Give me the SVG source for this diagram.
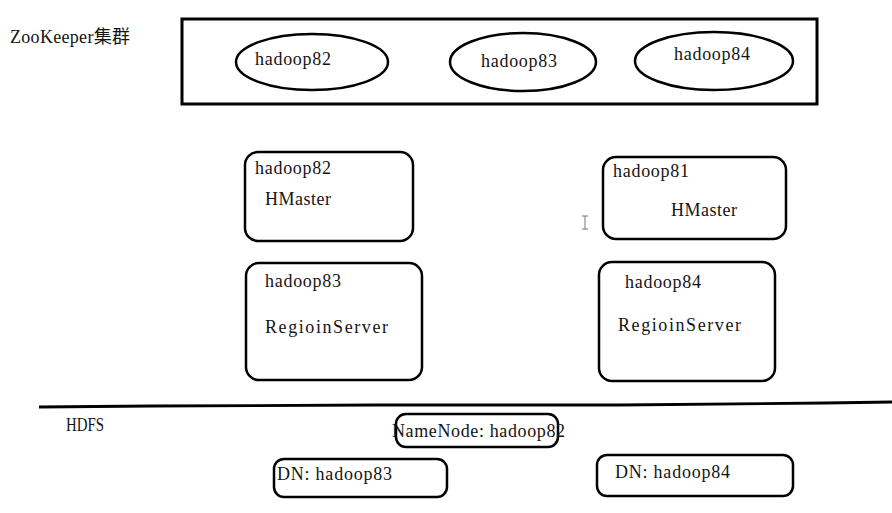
<svg xmlns="http://www.w3.org/2000/svg" width="892" height="513" viewBox="0 0 892 513">
<style>
text { font-family: "Liberation Serif", "Noto Sans CJK SC", serif; font-size: 18px; fill: #141414; }
.sm { font-size: 18px; }
.s { fill: none; stroke: #000; stroke-width: 2.5; }
.t { fill: none; stroke: #000; stroke-width: 3; }
</style>
<rect x="0" y="0" width="892" height="513" fill="#fff"/>
<g id="zk-label"><text x="10" y="43" textLength="120" lengthAdjust="spacing">ZooKeeper集群</text></g>
<g id="zk-cluster">
  <rect class="t" x="182" y="19" width="635" height="85"/>
</g>
<g id="zk-hadoop82"><ellipse class="s" cx="312" cy="62" rx="76" ry="28"/><text x="255" y="65" textLength="76" lengthAdjust="spacing">hadoop82</text></g>
<g id="zk-hadoop83"><ellipse class="s" cx="523" cy="62" rx="73" ry="29"/><text x="481" y="67" textLength="76" lengthAdjust="spacing">hadoop83</text></g>
<g id="zk-hadoop84"><ellipse class="s" cx="714" cy="61" rx="79" ry="29"/><text x="674" y="60" textLength="76" lengthAdjust="spacing">hadoop84</text></g>
<g id="hmaster-82"><rect class="s" x="245" y="152" width="168" height="89" rx="13"/><text x="255" y="174" textLength="76" lengthAdjust="spacing">hadoop82</text><text x="265" y="205" textLength="66" lengthAdjust="spacing">HMaster</text></g>
<g id="regionserver-83"><rect class="s" x="246" y="263" width="176" height="117" rx="13"/><text x="265" y="287" textLength="76" lengthAdjust="spacing">hadoop83</text><text x="265" y="333" textLength="123" lengthAdjust="spacing">RegioinServer</text></g>
<g id="hmaster-81"><rect class="s" x="603" y="157" width="183" height="82" rx="13"/><text x="613" y="177" textLength="76" lengthAdjust="spacing">hadoop81</text><text x="671" y="216" textLength="66" lengthAdjust="spacing">HMaster</text></g>
<g id="regionserver-84"><rect class="s" x="599" y="262" width="176" height="119" rx="13"/><text x="625" y="288" textLength="76" lengthAdjust="spacing">hadoop84</text><text x="618" y="331" textLength="123" lengthAdjust="spacing">RegioinServer</text></g>
<g id="cursor"><path d="M582,216 H588 M585,216 V229 M582,229 H588" fill="none" stroke="#777" stroke-width="1"/></g>
<g id="connectors">
  <path d="M39,407 L152,406 L375,405 L620,405 L825,403 L892,402" fill="none" stroke="#000" stroke-width="2.8"/>
</g>
<g id="hdfs-label"><text class="sm" x="66" y="431" textLength="38" lengthAdjust="spacingAndGlyphs">HDFS</text></g>
<g id="namenode"><rect class="s" x="396" y="414" width="162" height="33" rx="10"/><text x="392" y="437" textLength="173" lengthAdjust="spacing">NameNode: hadoop82</text></g>
<g id="dn-83"><rect class="s" x="274" y="459" width="173" height="38" rx="10"/><text x="277" y="480" textLength="115" lengthAdjust="spacing">DN: hadoop83</text></g>
<g id="dn-84"><rect class="s" x="597" y="455" width="196" height="41" rx="10"/><text x="615" y="478" textLength="115" lengthAdjust="spacing">DN: hadoop84</text></g>
</svg>
